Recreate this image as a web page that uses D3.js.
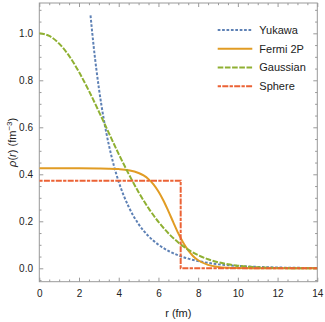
<!DOCTYPE html>
<html>
<head>
<meta charset="utf-8">
<script src="https://cdn.jsdelivr.net/npm/d3@7"></script>
<style>
  body { margin: 0; background: #fff; }
  text { font-family: "Liberation Sans", Arial, sans-serif; fill: #222; }
</style>
</head>
<body>
<div id="chart"></div>
<script>
// values
var yukawaR   = [2.58, 2.75, 3, 3.25, 3.5, 3.75, 4, 4.5, 5, 5.5, 6, 6.5, 7, 7.5, 8, 9, 10, 11, 12, 13, 14];
var yukawaRho = [1.076, 0.935, 0.767, 0.633, 0.526, 0.439, 0.368, 0.262, 0.188, 0.137, 0.1005, 0.0742, 0.0551, 0.0411, 0.0308, 0.0175, 0.0101, 0.0059, 0.0034, 0.002, 0.0012];

var fermiR   = [0, 1, 2, 3, 3.5, 4, 4.5, 5, 5.25, 5.5, 5.75, 6, 6.25, 6.5, 6.75, 7, 7.25, 7.5, 7.75, 8, 8.5, 9, 9.5, 10, 11, 12, 13, 14];
var fermiRho = [0.4255, 0.4255, 0.4255, 0.4249, 0.4241, 0.4221, 0.4173, 0.4057, 0.3951, 0.3795, 0.3572, 0.327, 0.2886, 0.2435, 0.1954, 0.149, 0.1085, 0.0759, 0.0515, 0.0342, 0.0145, 0.006, 0.0024, 0.001, 0.0002, 0, 0, 0];

var gaussR   = [0, 0.5, 1, 1.5, 2, 2.5, 3, 3.5, 4, 4.5, 5, 5.5, 6, 6.5, 7, 7.5, 8, 8.5, 9, 9.5, 10, 11, 12, 13, 14];
var gaussRho = [1, 0.989, 0.956, 0.904, 0.835, 0.755, 0.667, 0.576, 0.486, 0.402, 0.324, 0.256, 0.198, 0.149, 0.11, 0.0794, 0.056, 0.0386, 0.026, 0.0172, 0.0111, 0.0043, 0.0015, 0.0005, 0.0002];

var sphereR   = [0, 7.12, 7.12, 14];
var sphereRho = [0.373, 0.373, 0, 0];

var seriesNames = ["Yukawa", "Fermi 2P", "Gaussian", "Sphere"];
var xMajor = [0, 2, 4, 6, 8, 10, 12, 14];
var yMajor = [0, 0.2, 0.4, 0.6, 0.8, 1.0];

var W = 325, H = 322;
var mLeft = 39.3, mRight = 317.3, mTop = 3, mBottom = 281.7;

var x = d3.scaleLinear().domain([0, 14]).range([mLeft, mRight]);
var y = d3.scaleLinear().domain([-0.057, 1.129]).range([mBottom, mTop]);

var svg = d3.select('#chart').append('svg')
  .attr('width', W).attr('height', H);

svg.append('clipPath').attr('id', 'clip')
  .append('rect').attr('x', mLeft).attr('y', mTop)
  .attr('width', mRight - mLeft).attr('height', mBottom - mTop);

var series = [
  {r: yukawaR, v: yukawaRho, color: '#5e81b5', dash: '2.7,1.7', curve: d3.curveMonotoneX},
  {r: fermiR, v: fermiRho, color: '#e19c24', dash: null, curve: d3.curveMonotoneX},
  {r: gaussR, v: gaussRho, color: '#8fb032', dash: '5.6,1.6', curve: d3.curveMonotoneX},
  {r: sphereR, v: sphereRho, color: '#eb6235', dash: '3.3,1.3,6,1.3', curve: d3.curveLinear}
];

// minor ticks
var xMinor = d3.range(0, 14.01, 0.5).filter(function(d){ return d % 2 != 0; });
var yMinor = d3.range(-0.05, 1.126, 0.05).filter(function(d){ return Math.abs(Math.round(d*5) - d*5) > 0.01; });

function styleAxis(g) {
  g.select('.domain').remove();
  g.selectAll('line').attr('stroke', '#999');
  g.selectAll('text').style('font-size', '10px').attr('fill', '#222');
}

svg.append('g').attr('transform', 'translate(0,' + mBottom + ')')
  .call(d3.axisBottom(x).tickValues(xMajor).tickSizeInner(-4).tickSizeOuter(0).tickPadding(8).tickFormat(d3.format('d')))
  .call(styleAxis);
svg.append('g').attr('transform', 'translate(0,' + mBottom + ')')
  .call(d3.axisBottom(x).tickValues(xMinor).tickSizeInner(-2.2).tickSizeOuter(0).tickFormat(''))
  .call(styleAxis);
svg.append('g').attr('transform', 'translate(0,' + mTop + ')')
  .call(d3.axisTop(x).tickValues(xMajor).tickSizeInner(-4).tickSizeOuter(0).tickFormat(''))
  .call(styleAxis);
svg.append('g').attr('transform', 'translate(0,' + mTop + ')')
  .call(d3.axisTop(x).tickValues(xMinor).tickSizeInner(-2.2).tickSizeOuter(0).tickFormat(''))
  .call(styleAxis);

svg.append('g').attr('transform', 'translate(' + mLeft + ',0)')
  .call(d3.axisLeft(y).tickValues(yMajor).tickSizeInner(-4).tickSizeOuter(0).tickPadding(6.3).tickFormat(d3.format('.1f')))
  .call(styleAxis);
svg.append('g').attr('transform', 'translate(' + mLeft + ',0)')
  .call(d3.axisLeft(y).tickValues(yMinor).tickSizeInner(-2.2).tickSizeOuter(0).tickFormat(''))
  .call(styleAxis);
svg.append('g').attr('transform', 'translate(' + mRight + ',0)')
  .call(d3.axisRight(y).tickValues(yMajor).tickSizeInner(-4).tickSizeOuter(0).tickFormat(''))
  .call(styleAxis);
svg.append('g').attr('transform', 'translate(' + mRight + ',0)')
  .call(d3.axisRight(y).tickValues(yMinor).tickSizeInner(-2.2).tickSizeOuter(0).tickFormat(''))
  .call(styleAxis);

// frame
svg.append('rect')
  .attr('x', mLeft).attr('y', mTop)
  .attr('width', mRight - mLeft).attr('height', mBottom - mTop)
  .attr('fill', 'none').attr('stroke', '#999').attr('stroke-width', 1);

// curves
var plot = svg.append('g').attr('clip-path', 'url(#clip)');
series.forEach(function(s) {
  var pts = s.r.map(function(r, i){ return [r, s.v[i]]; });
  var line = d3.line().x(function(d){ return x(d[0]); }).y(function(d){ return y(d[1]); }).curve(s.curve);
  plot.append('path')
    .attr('d', line(pts))
    .attr('fill', 'none')
    .attr('stroke', s.color)
    .attr('stroke-width', 2)
    .attr('stroke-dasharray', s.dash);
});

// legend
var legY = d3.scalePoint().domain(seriesNames).range([30, 86.3]);
var leg = svg.append('g');
seriesNames.forEach(function(name, i) {
  var s = series[i];
  leg.append('line')
    .attr('x1', 217.7).attr('x2', 252.3)
    .attr('y1', legY(name)).attr('y2', legY(name))
    .attr('stroke', s.color).attr('stroke-width', 2)
    .attr('stroke-dasharray', s.dash);
  leg.append('text')
    .attr('x', 259.3).attr('y', legY(name)).attr('dy', '0.35em')
    .style('font-size', '11px')
    .text(name);
});

// axis labels
svg.append('text')
  .attr('x', (mLeft + mRight) / 2).attr('y', 317)
  .attr('text-anchor', 'middle')
  .style('font-size', '11px')
  .text('r (fm)');

var yl = svg.append('text')
  .attr('transform', 'translate(15.5,' + ((mTop + mBottom) / 2) + ') rotate(-90)')
  .attr('text-anchor', 'middle')
  .style('font-size', '11px');
yl.append('tspan').style('font-style', 'italic').text('\u03c1');
yl.append('tspan').text('(');
yl.append('tspan').style('font-style', 'italic').text('r');
yl.append('tspan').text(') (fm');
yl.append('tspan').attr('dy', '-4').style('font-size', '8px').text('\u22123');
yl.append('tspan').attr('dy', '4').text(')');
</script>
</body>
</html>
